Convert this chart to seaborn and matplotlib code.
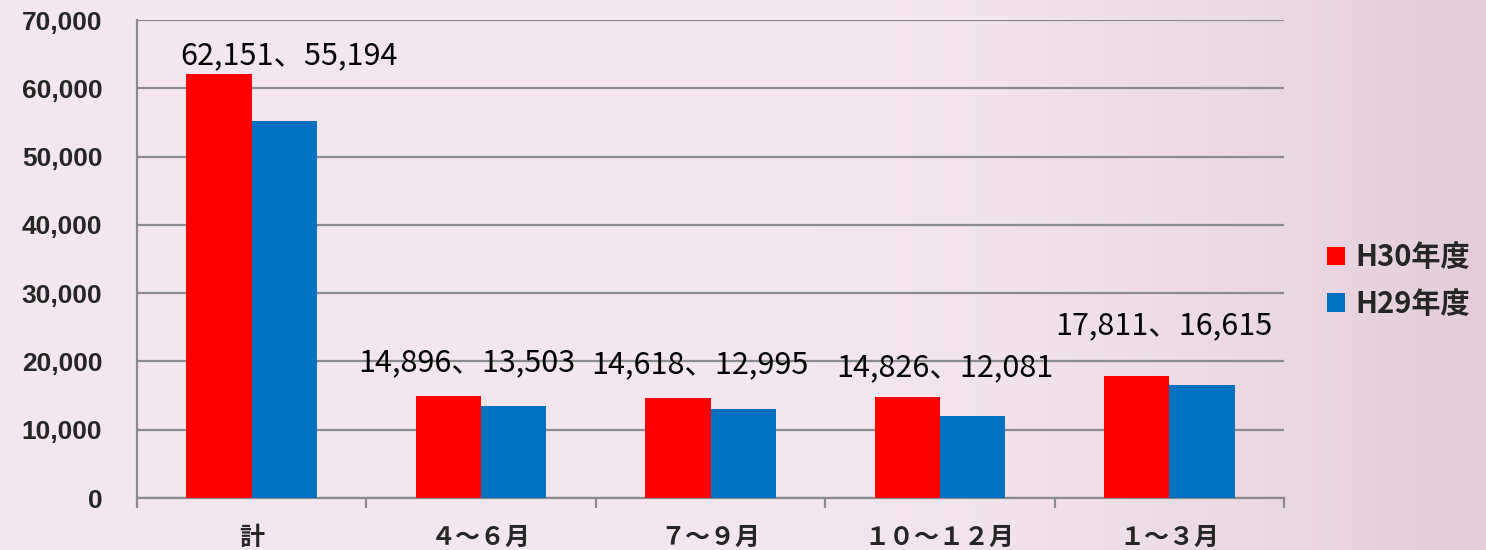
import numpy as np
import pandas as pd
import seaborn as sns
import matplotlib.pyplot as plt
from matplotlib.ticker import FuncFormatter, FixedLocator

sns.set_theme(style="white")
plt.rcParams["font.family"] = ["Noto Sans CJK JP", "DejaVu Sans"]

# data
periods = ["計", "４～６月", "７～９月", "１０～１２月", "１～３月"]
h30 = [62151, 14896, 14618, 14826, 17811]
h29 = [55194, 13503, 12995, 12081, 16615]
years = ["H30年度", "H29年度"]
colors = ["#FF0000", "#0070C0"]
# data labels were hand placed: pixel lift above the taller bar, pixel shift sideways
label_lift = [18, 34, 33, 29, 51]
label_shift = [37, -14, -11, 5, -5]

df = pd.DataFrame({
    "period": periods * 2,
    "count": h30 + h29,
    "year": [years[0]] * len(periods) + [years[1]] * len(periods),
})

fig = plt.figure(figsize=(14.86, 5.5), dpi=100)

# pink background with a soft darker band to the right
bg = fig.add_axes([0, 0, 1, 1], zorder=-10)
xx = np.linspace(0, 1, 400)
grad = np.clip((xx - 0.55) / 0.45, 0, 1) ** 1.5
left_c = np.array([244, 230, 239]) / 255
right_c = np.array([226, 205, 216]) / 255
img = left_c[None, :] * (1 - grad[:, None]) + right_c[None, :] * grad[:, None]
bg.imshow(img[None, :, :], aspect="auto", extent=[0, 1, 0, 1])
bg.set_axis_off()

ax = fig.add_axes([137 / 1486, 1 - 498 / 550, (1284 - 137) / 1486, (498 - 20) / 550])
ax.set_facecolor("none")

sns.barplot(data=df, x="period", y="count", hue="year", palette=colors,
            width=0.57, gap=0, saturation=1, linewidth=0, ax=ax, legend=True,
            zorder=3)

ax.set_xlim(-0.5, len(periods) - 0.5)
ax.set_ylim(0, 70000)
ax.set_xlabel("")
ax.set_ylabel("")

grid_c = "#8C8C8C"
ax.yaxis.set_major_locator(FixedLocator(np.arange(0, 70001, 10000)))
ax.yaxis.set_major_formatter(FuncFormatter(lambda v, p: f"{int(v):,}"))
ax.grid(axis="y", color=grid_c, linewidth=1.6, zorder=0)
ax.set_axisbelow(True)
for s in ["top", "right"]:
    ax.spines[s].set_visible(False)
for s in ["left", "bottom"]:
    ax.spines[s].set_color(grid_c)
    ax.spines[s].set_linewidth(1.6)

ax.tick_params(axis="y", which="major", length=6, width=1.6, color=grid_c,
               labelsize=19, pad=19)
for t in ax.get_yticklabels():
    t.set_fontfamily(["Liberation Sans", "DejaVu Sans"])
    t.set_fontweight("bold")

ax.xaxis.set_minor_locator(FixedLocator(np.arange(-0.5, len(periods), 1.0)))
ax.tick_params(axis="x", which="minor", length=7, width=1.6, color=grid_c,
               direction="out", bottom=True)
ax.tick_params(axis="x", which="major", length=0, labelsize=18, pad=20)
for t in ax.get_xticklabels():
    t.set_fontweight("bold")

px = 72 / 100  # points per pixel
for i, (a, b) in enumerate(zip(h30, h29)):
    ax.annotate(f"{a:,}、{b:,}", xy=(i, max(a, b)),
                xytext=(label_shift[i] * px, label_lift[i] * px),
                textcoords="offset points", ha="center", va="center",
                fontsize=22, color="black")

handles, labels = ax.get_legend_handles_labels()
ax.legend(handles, labels, loc="center left", bbox_to_anchor=(1.015, 0.455),
          frameon=False, handlelength=0.6, handleheight=0.6,
          handletextpad=0.35, labelspacing=0.55, prop={"weight": "bold", "size": 21})

fig.savefig("out.png", dpi=100)
